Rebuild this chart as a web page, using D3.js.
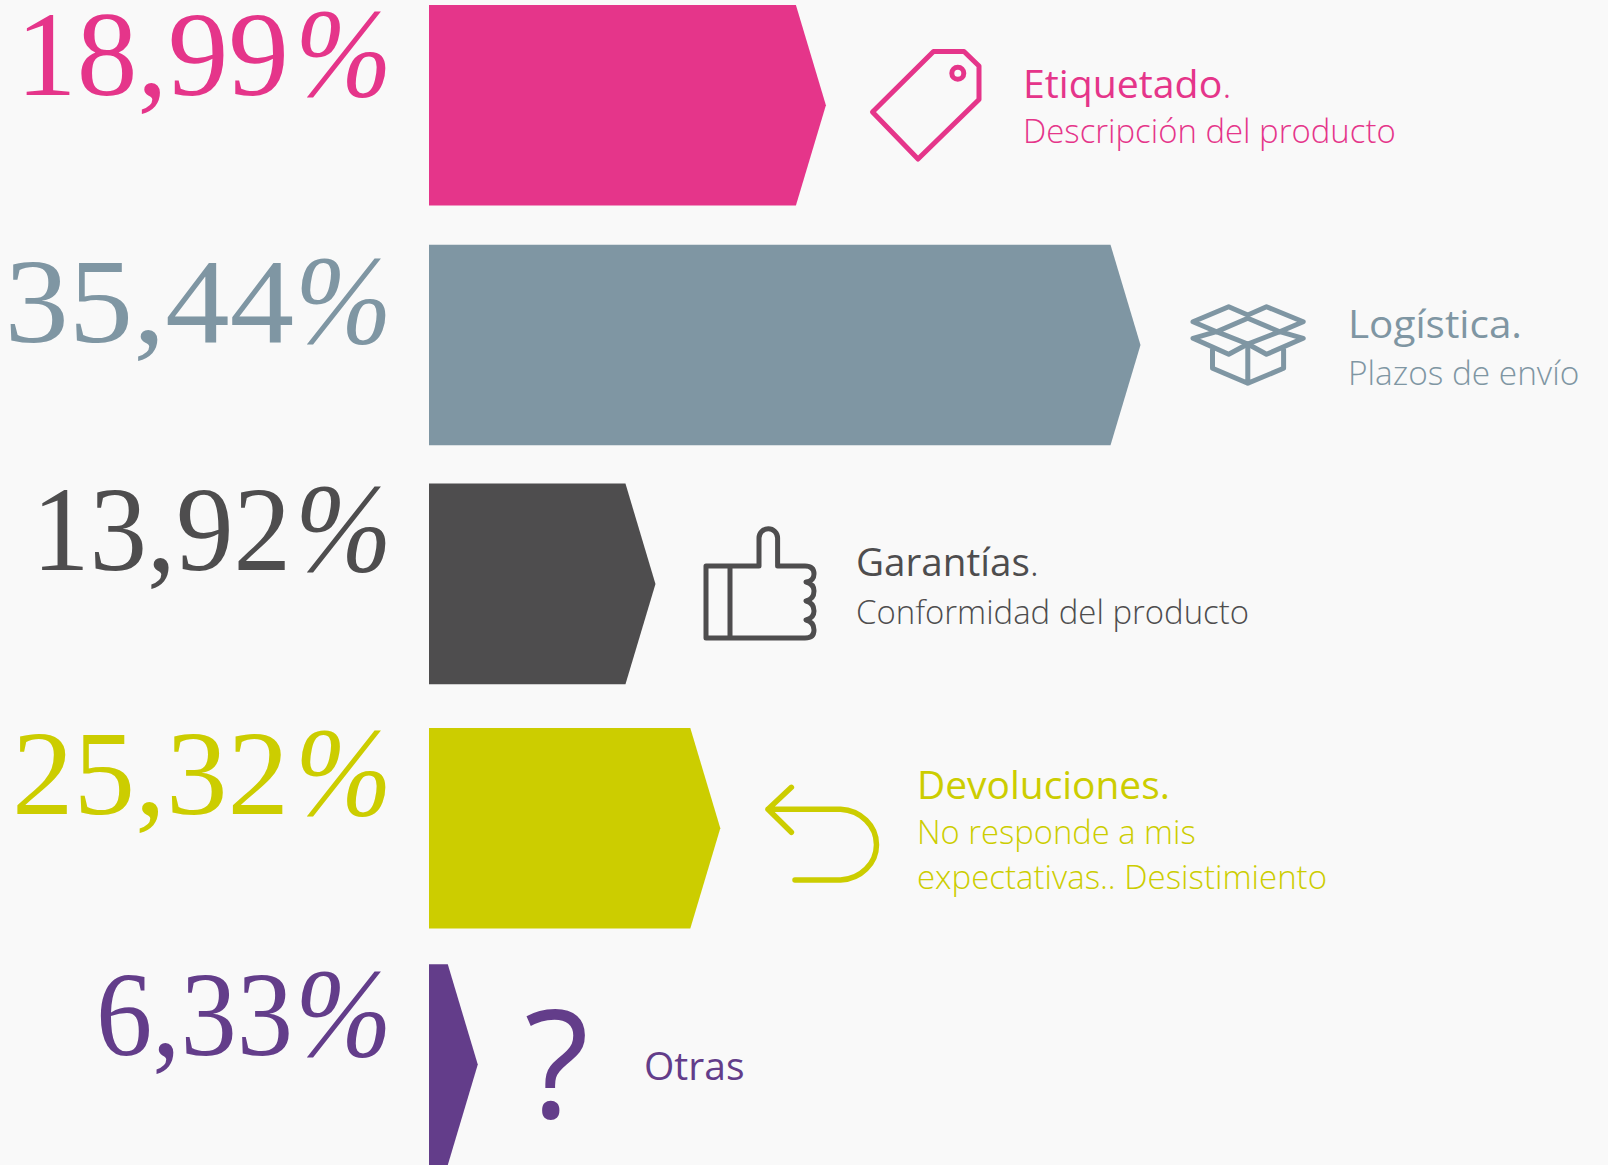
<!DOCTYPE html>
<html><head><meta charset="utf-8">
<script src="https://cdn.jsdelivr.net/npm/d3@7/dist/d3.min.js"></script>
<style>html,body{margin:0;padding:0;background:#f9f9f9;overflow:hidden}svg{display:block}</style>
</head><body>
<svg id="c" width="1608" height="1165"></svg>
<script>
const categories = ["Etiquetado","Logística","Garantías","Devoluciones","Otras"];
const percentLabels = ["18,99","35,44","13,92","25,32","6,33"];
// Bar lengths as drawn in the picture, in the units of the longest bar (35,44):
// the reference's bars are not proportional to their printed percentages.
const barLengths = [19.77,35.44,11.28,14.51,2.43];
const colors = ["#e5358a","#7f96a3","#4e4d4e","#cccd00","#633d8a"];
const titleEnds = [".",".",".",".",""];
const subtitles = [["Descripción del producto"],["Plazos de envío"],["Conformidad del producto"],["No responde a mis","expectativas.. Desistimiento"],[]];

const svg = d3.select("#c");
const x = d3.scaleLinear().domain([0,35.44]).range([429,1140.5]);
const y = d3.scaleOrdinal().domain(categories).range([5,244.7,483.6,728,964.3]);
const barH = 200.6, notch = 30;
const rows = categories.map((c,i)=>({c,i,len:barLengths[i],color:colors[i]}));

svg.append("g").selectAll("path").data(rows).join("path")
  .attr("fill",d=>d.color)
  .attr("d",d=>{const t=y(d.c),r=x(d.len),p=d3.path();
    p.moveTo(x(0),t);p.lineTo(r-notch,t);p.lineTo(r,t+barH/2);p.lineTo(r-notch,t+barH);p.lineTo(x(0),t+barH);p.closePath();return p.toString();});

// percentage labels: digits fitted to the reference's extent, then an italic % sign
const pctBase = [95,341.7,569.7,813.7,1054.5];
const pctLeft = [16,4.5,32,12,96];
const pctRight = [289,294,291,289,293];
const serif = "'Liberation Serif',serif";
const pg = svg.append("g").attr("font-family",serif);
pg.selectAll("text.n").data(rows).join("text").attr("class","n")
  .attr("x",d=>pctLeft[d.i]).attr("y",d=>pctBase[d.i])
  .attr("fill",d=>d.color).attr("font-size",120)
  .attr("textLength",d=>pctRight[d.i]-pctLeft[d.i]).attr("lengthAdjust","spacingAndGlyphs")
  .text(d=>percentLabels[d.i]);
pg.selectAll("text.p").data(rows).join("text").attr("class","p")
  .attr("x",295).attr("y",d=>pctBase[d.i]+1).attr("font-style","italic")
  .attr("fill",d=>d.color).attr("font-size",126)
  .attr("textLength",97).attr("lengthAdjust","spacingAndGlyphs").text("%");

// text blocks
const textX = [1023,1348,856,917,644];
const titleBase = [97.5,337.5,575.7,798.7,1079.5];
const titleRight = [1231.6,1522,1039,1170,744.5];
const endWeight = [300,400,300,400,400];
const subBase = [[142.7],[385],[623.7],[843.7,888.5]];
const subRight = [[1395.7],[1579.3],[1249],[1195.7,1327]];
const sans = "'Open Sans',sans-serif";
const tb = svg.append("g").attr("font-family",sans);
rows.forEach(d=>{
  const t = tb.append("text").attr("x",textX[d.i]).attr("y",titleBase[d.i]).attr("fill",d.color).attr("font-size",39)
    .attr("textLength",titleRight[d.i]-textX[d.i]).attr("lengthAdjust","spacingAndGlyphs");
  t.append("tspan").text(d.c);
  if(titleEnds[d.i]) t.append("tspan").attr("font-weight",endWeight[d.i]).text(titleEnds[d.i]);
  subtitles[d.i].forEach((s,k)=>{
    tb.append("text").attr("x",textX[d.i]).attr("y",subBase[d.i][k]).attr("fill",d.color).attr("font-size",32.5).attr("font-weight",300)
      .attr("textLength",subRight[d.i][k]-textX[d.i]).attr("lengthAdjust","spacingAndGlyphs").text(s);
  });
});

// icons
const icon = (col,w)=>svg.append("g").attr("fill","none").attr("stroke",col).attr("stroke-width",w).attr("stroke-linejoin","round").attr("stroke-linecap","round");
const tag = icon(colors[0],5);
tag.append("path").attr("d","M872.5 112L933.5 51.5H964L979 66V99.5L918 159Z");
tag.append("circle").attr("cx",957.8).attr("cy",73.3).attr("r",6);
const box = icon(colors[1],5);
box.append("path").attr("d","M1216.5 331.7L1247.8 318.3L1279.7 331.7L1247.8 344Z");
box.append("path").attr("d","M1216.5 331.7L1193 321.7L1228.7 306.7L1247.8 315L1266.5 306.7L1303.2 321.7L1279.7 331.7");
box.append("path").attr("d","M1216.5 331.7L1193 338.3L1228.7 354.3L1247.8 344L1266.5 354.3L1303.2 338.3L1279.7 331.7");
box.append("path").attr("d","M1212.5 350V368.3L1247.8 383.3L1283.6 368.3V350M1247.8 344V383.3");
const th = icon(colors[2],5);
th.append("path").attr("d","M706 566H759V538A9.3 9.3 0 0 1 777.6 538V566H805Q814 566 814 574Q814 581 806 582Q814 584 814 591Q814 599 806 601Q814 603 814 611Q814 618 806 620Q814 622 814 630Q814 638 805 638H706ZM730 566V638");
const ar = icon(colors[3],5.5);
ar.append("path").attr("d","M791.4 787.3L768 809.3L791.4 832.3M768 809.3H840.5A38 35.4 0 0 1 840.5 880H795");
svg.append("text").attr("x",556.5).attr("y",1118).attr("text-anchor","middle").attr("fill",colors[4]).attr("font-family",sans).attr("font-weight",500).attr("font-size",150).text("?");
</script>
</body></html>
